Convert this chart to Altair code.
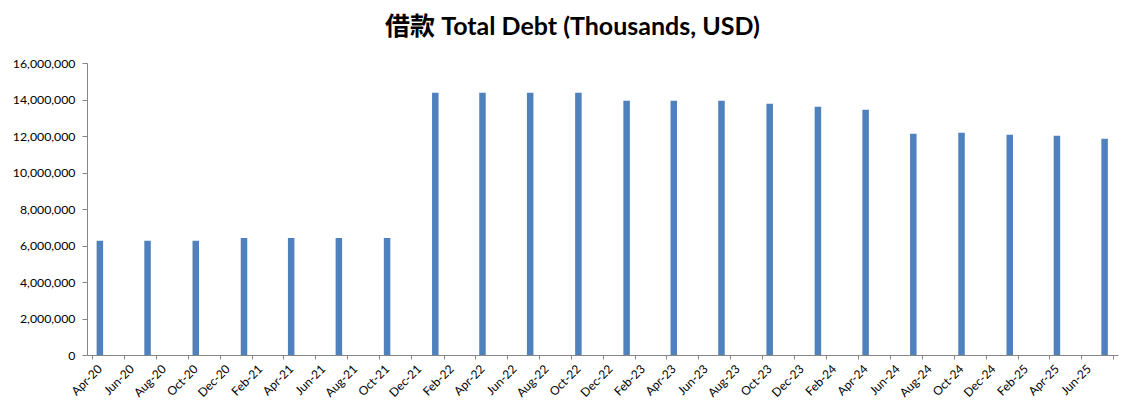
import altair as alt
import pandas as pd

# Quarterly observations (month of observation) and total debt in thousands USD
months = [
    "2020-04", "2020-07", "2020-10", "2021-01", "2021-04", "2021-07", "2021-10",
    "2022-01", "2022-04", "2022-07", "2022-10", "2023-01", "2023-04", "2023-07",
    "2023-10", "2024-01", "2024-04", "2024-07", "2024-10", "2025-01", "2025-04",
    "2025-07",
]
total_debt = [
    6260000, 6260000, 6260000, 6410000, 6410000, 6410000, 6410000,
    14370000, 14370000, 14370000, 14370000, 13930000, 13930000, 13930000,
    13770000, 13600000, 13440000, 12120000, 12180000, 12070000, 12010000,
    11850000,
]

# x-axis tick months (every two months) and domain ends
tick_months = [
    "2020-04", "2020-06", "2020-08", "2020-10", "2020-12",
    "2021-02", "2021-04", "2021-06", "2021-08", "2021-10", "2021-12",
    "2022-02", "2022-04", "2022-06", "2022-08", "2022-10", "2022-12",
    "2023-02", "2023-04", "2023-06", "2023-08", "2023-10", "2023-12",
    "2024-02", "2024-04", "2024-06", "2024-08", "2024-10", "2024-12",
    "2025-02", "2025-04", "2025-06", "2025-08",
]
domain_months = ["2020-04", "2025-08"]
y_ticks = [0, 2000000, 4000000, 6000000, 8000000, 10000000, 12000000, 14000000, 16000000]


def dt(ym, day=1):
    y, m = ym.split("-")
    return alt.DateTime(year=int(y), month=int(m), date=day, utc=True)


df = pd.DataFrame({"month": months, "debt": total_debt})

FONT = "Lato, Noto Sans CJK TC"
END_TEST = "utcFormat(datum.value, '%b-%y') == 'Aug-25'"

chart = (
    alt.Chart(df)
    .transform_calculate(
        mid="utc(toNumber(slice(datum.month, 0, 4)), toNumber(slice(datum.month, 5, 7)) - 1, 16)"
    )
    .mark_bar(color="#4F81BD", size=6.5)
    .encode(
        x=alt.X(
            "mid:T",
            scale=alt.Scale(type="utc", domain=[dt(m) for m in domain_months]),
            axis=alt.Axis(
                title=None,
                values=[dt(m) for m in tick_months],
                labelExpr=END_TEST + " ? '' : utcFormat(datum.value, '%b-%y')",
                labelAngle=-45,
                labelAlign="right",
                labelBaseline="top",
                labelOffset=4,
                labelPadding=4,
                tickSize=4,
                grid=False,
                domainColor="#868686",
                tickColor="#868686",
                labelColor="#000000",
                labelFont=FONT,
                labelFontSize=12,
                labelOverlap=False,
                labelFlush=False,
            ),
        ),
        y=alt.Y(
            "debt:Q",
            scale=alt.Scale(domain=[0, 16000000], nice=False),
            axis=alt.Axis(
                title=None,
                values=y_ticks,
                format=",.0f",
                tickSize=5,
                labelPadding=7,
                grid=False,
                domainColor="#868686",
                tickColor="#868686",
                labelColor="#000000",
                labelFont=FONT,
                labelFontSize=12.3,
            ),
        ),
    )
    .properties(
        width=1031,
        height=292,
        autosize=alt.AutoSizeParams(type="none"),
        padding={"left": 79, "top": 55, "right": 5, "bottom": 44},
        title=alt.TitleParams(
            "借款 Total Debt (Thousands, USD)",
            font=FONT,
            fontSize=25,
            fontWeight="bold",
            color="#000000",
            anchor="middle",
            frame="group",
            dx=-30,
            offset=17,
        ),
    )
    .configure(background="white")
    .configure_view(stroke="transparent", strokeWidth=0)
)

chart.save("out.html", embed_options={"renderer": "svg", "actions": False})
